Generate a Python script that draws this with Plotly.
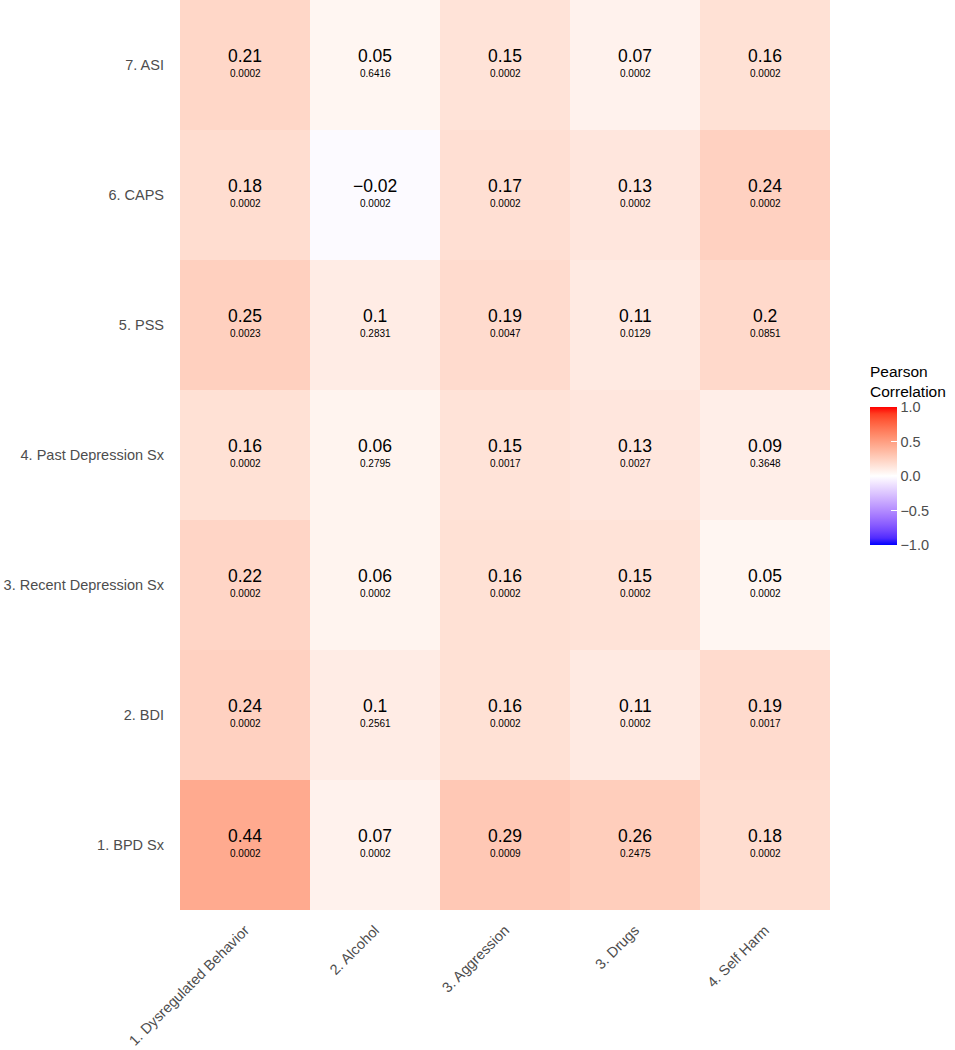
import numpy as np
import plotly.graph_objects as go

x_labels = ["1. Dysregulated Behavior", "2. Alcohol", "3. Aggression", "3. Drugs", "4. Self Harm"]
y_labels = ["1. BPD Sx", "2. BDI", "3. Recent Depression Sx", "4. Past Depression Sx",
            "5. PSS", "6. CAPS", "7. ASI"]

r_bpd = [0.44, 0.07, 0.29, 0.26, 0.18]
r_bdi = [0.24, 0.10, 0.16, 0.11, 0.19]
r_recent = [0.22, 0.06, 0.16, 0.15, 0.05]
r_past = [0.16, 0.06, 0.15, 0.13, 0.09]
r_pss = [0.25, 0.10, 0.19, 0.11, 0.20]
r_caps = [0.18, -0.02, 0.17, 0.13, 0.24]
r_asi = [0.21, 0.05, 0.15, 0.07, 0.16]

p_bpd = ["0.0002", "0.0002", "0.0009", "0.2475", "0.0002"]
p_bdi = ["0.0002", "0.2561", "0.0002", "0.0002", "0.0017"]
p_recent = ["0.0002", "0.0002", "0.0002", "0.0002", "0.0002"]
p_past = ["0.0002", "0.2795", "0.0017", "0.0027", "0.3648"]
p_pss = ["0.0023", "0.2831", "0.0047", "0.0129", "0.0851"]
p_caps = ["0.0002", "0.0002", "0.0002", "0.0002", "0.0002"]
p_asi = ["0.0002", "0.6416", "0.0002", "0.0002", "0.0002"]

z = [r_bpd, r_bdi, r_recent, r_past, r_pss, r_caps, r_asi]
p = [p_bpd, p_bdi, p_recent, p_past, p_pss, p_caps, p_asi]

FONT = "Liberation Sans, Arial, sans-serif"


# ---- Lab interpolation colour scale (like ggplot2 gradient2) ----
def srgb_to_lab(rgb):
    c = np.array(rgb, dtype=float) / 255.0
    c = np.where(c <= 0.04045, c / 12.92, ((c + 0.055) / 1.055) ** 2.4)
    M = np.array([[0.4124564, 0.3575761, 0.1804375],
                  [0.2126729, 0.7151522, 0.0721750],
                  [0.0193339, 0.1191920, 0.9503041]])
    xyz = M @ c
    wp = np.array([0.95047, 1.0, 1.08883])
    t = xyz / wp
    f = np.where(t > (6 / 29) ** 3, np.cbrt(t), t / (3 * (6 / 29) ** 2) + 4 / 29)
    return np.array([116 * f[1] - 16, 500 * (f[0] - f[1]), 200 * (f[1] - f[2])])


def lab_to_srgb(lab):
    L, a, b = lab
    fy = (L + 16) / 116
    fx = fy + a / 500
    fz = fy - b / 200
    f = np.array([fx, fy, fz])
    t = np.where(f > 6 / 29, f ** 3, 3 * (6 / 29) ** 2 * (f - 4 / 29))
    xyz = t * np.array([0.95047, 1.0, 1.08883])
    Minv = np.array([[3.2404542, -1.5371385, -0.4985314],
                     [-0.9692660, 1.8760108, 0.0415560],
                     [0.0556434, -0.2040259, 1.0572252]])
    c = Minv @ xyz
    c = np.clip(c, 0, 1)
    c = np.where(c <= 0.0031308, 12.92 * c, 1.055 * c ** (1 / 2.4) - 0.055)
    return tuple(int(round(v * 255)) for v in np.clip(c, 0, 1))


low, mid, high = srgb_to_lab((0, 0, 255)), srgb_to_lab((255, 255, 255)), srgb_to_lab((255, 0, 0))
cscale = []
n = 20
for i in range(n + 1):
    s = i / n
    if s <= 0.5:
        lab = low + (mid - low) * (s / 0.5)
    else:
        lab = mid + (high - mid) * ((s - 0.5) / 0.5)
    r, g, b = lab_to_srgb(lab)
    cscale.append([s, f"rgb({r},{g},{b})"])

fig = go.Figure(go.Heatmap(
    z=z, x=x_labels, y=y_labels,
    zmin=-1, zmax=1, colorscale=cscale,
    xgap=0, ygap=0,
    hoverinfo="skip",
    colorbar=dict(
        thickness=27, lenmode="pixels", len=138,
        x=1.061, xanchor="left", y=0.477, yanchor="middle",
        xpad=0, ypad=0,
        tickvals=[-1, -0.5, 0, 0.5, 1],
        ticktext=["\u22121.0", "\u22120.5", "0.0", "0.5", "1.0"],
        ticks="inside", ticklen=6, tickcolor="white",
        tickfont=dict(size=14.5, color="#4D4D4D", family=FONT),
        outlinewidth=0,
    ),
))

annotations = []
for i, ylab in enumerate(y_labels):
    for j, xlab in enumerate(x_labels):
        v = z[i][j]
        txt = f"{v:g}".replace("-", "\u2212")
        annotations.append(dict(x=xlab, y=ylab, xref="x", yref="y", text=txt,
                                showarrow=False, yshift=9,
                                font=dict(size=17.5, color="#000000", family=FONT)))
        annotations.append(dict(x=xlab, y=ylab, xref="x", yref="y", text=p[i][j],
                                showarrow=False, yshift=-8,
                                font=dict(size=10, color="#000000", family=FONT)))

# colour bar title
annotations.append(dict(x=1.058, y=(910 - 361) / 910, xref="paper", yref="paper",
                        xanchor="left", yanchor="top", align="left", showarrow=False,
                        text="Pearson<br>Correlation",
                        font=dict(size=15.5, color="#000000", family=FONT)))

fig.update_layout(
    width=955, height=1050,
    margin=dict(l=180, r=125, t=0, b=140, autoexpand=False),
    paper_bgcolor="white", plot_bgcolor="white",
    font=dict(family=FONT, color="#4D4D4D"),
    annotations=annotations,
    xaxis=dict(tickangle=-45, tickfont=dict(size=14.5, color="#4D4D4D", family=FONT),
               showgrid=False, zeroline=False, ticks="", ticklabelstandoff=8),
    yaxis=dict(tickfont=dict(size=14.5, color="#4D4D4D", family=FONT),
               showgrid=False, zeroline=False, ticks="", ticklabelstandoff=15),
)

fig.write_html("out.html", config={"displayModeBar": False},
               post_script="document.body.style.margin='0px';document.body.style.padding='0px';")
